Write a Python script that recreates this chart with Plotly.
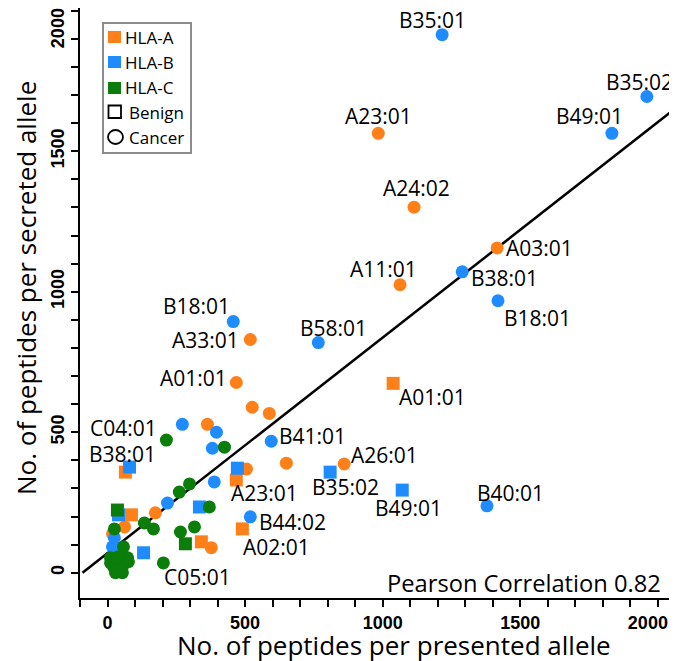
import plotly.graph_objects as go

# ---------------- data ----------------
# HLA-A, cancer (circles)
a_cancer_x = [984, 1114, 1416, 1063, 519, 468, 860, 526, 588, 363, 505, 650, 174, 62, 18, 377, 36]
a_cancer_y = [1564, 1301, 1156, 1025, 830, 677, 387, 589, 567, 528, 369, 390, 213, 163, 138, 89, 82]
a_cancer_lab = ["A23:01", "A24:02", "A03:01", "A11:01", "A33:01", "A01:01", "A26:01",
                "", "", "", "", "", "", "", "", "", ""]
# HLA-A, benign (squares)
a_benign_x = [1038, 468, 490, 65, 87, 341]
a_benign_y = [674, 330, 156, 358, 206, 110]
a_benign_lab = ["A01:01", "A23:01", "A02:01", "", "", ""]
# HLA-B, cancer
b_cancer_x = [1216, 1960, 1833, 1289, 1419, 457, 766, 595, 519, 1379, 272, 396, 381, 388, 218, 25, 18]
b_cancer_y = [1915, 1695, 1564, 1071, 968, 894, 819, 468, 199, 238, 528, 500, 443, 323, 248, 124, 92]
b_cancer_lab = ["B35:01", "B35:02", "B49:01", "B38:01", "B18:01", "B18:01", "B58:01", "B41:01",
                "B44:02", "B40:01", "", "", "", "", "", "", ""]
# HLA-B, benign
b_benign_x = [80, 809, 1071, 472, 334, 131, 40]
b_benign_y = [376, 358, 294, 372, 234, 71, 206]
b_benign_lab = ["B38:01", "B35:02", "B49:01", "", "", "", ""]
# HLA-C, cancer
c_cancer_x = [214, 203, 425, 298, 261, 370, 316, 265, 134, 167, 25, 58, 11, 40, 73, 22, 54, 76, 29, 54, 11]
c_cancer_y = [472, 35, 447, 316, 287, 234, 163, 145, 177, 156, 156, 92, 53, 57, 53, 21, 21, 39, 0, 0, 35]
c_cancer_lab = ["C04:01", "C05:01"] + [""] * 19
# HLA-C, benign
c_benign_x = [36, 283, 40]
c_benign_y = [223, 103, 5]
c_benign_lab = ["", "", ""]

# regression line
fit_slope = 0.767
fit_intercept = 70
fit_x_range = [-91, 2051]
pearson_r = 0.82

x_ticks = [0, 500, 1000, 1500, 2000]
y_ticks = [0, 500, 1000, 1500, 2000]

legend_labels = ["HLA-A", "HLA-B", "HLA-C", "Benign", "Cancer"]

# ---------------- styling ----------------
ORANGE = "#FF8019"
BLUE = "#1E8CFF"
GREEN = "#0A7D0A"
FONT = "Open Sans"
OFF = 8                      # the page body adds an 8px margin around the figure
W, H = 677 - OFF, 661 - OFF
ML, MR, MT, MB = 72, 4, 0, 63
PW, PH = W - ML - MR, H - MT - MB


def px_x(p):  # page pixel -> paper x
    return (p - OFF - ML) / PW


def px_y(p):  # page pixel (from top) -> paper y
    return (H - MB - (p - OFF)) / PH


# label placement: (xanchor, xshift px, yshift px) keyed by (group, label)
label_pos = {
    ("Ac", "A23:01"): ("center", 0, 17),
    ("Ac", "A24:02"): ("center", 2, 19),
    ("Ac", "A03:01"): ("left", 7, 0),
    ("Ac", "A11:01"): ("center", -17, 16),
    ("Ac", "A33:01"): ("right", -9, 0),
    ("Ac", "A01:01"): ("right", -7, 5),
    ("Ac", "A26:01"): ("left", 5, 9),
    ("Ab", "A01:01"): ("left", 4, -14),
    ("Ab", "A23:01"): ("center", 28, -13),
    ("Ab", "A02:01"): ("left", -1, -18),
    ("Bc", "B35:01"): ("center", -10, 15),
    ("Bc", "B35:02"): ("center", -7, 15),
    ("Bc", "B49:01"): ("center", -22, 17),
    ("Bc", "B38:01"): ("left", 7, -6),
    ("Bc", "B58:01"): ("left", -20, 15),
    ("Bc", "B41:01"): ("left", 6, 5),
    ("Bc", "B44:02"): ("left", 7, -5),
    ("Bc", "B40:01"): ("center", 24, 13),
    ("Bb", "B38:01"): ("center", -7, 13),
    ("Bb", "B35:02"): ("center", 15, -15),
    ("Bb", "B49:01"): ("center", 6, -18),
    ("Cc", "C04:01"): ("right", -7, 12),
    ("Cc", "C05:01"): ("left", -1, -14),
}
# the two B18:01 points, in order of appearance
b18_pos = [("left", 4, -17), ("right", -1, 16)]

fig = go.Figure()

groups = [
    ("Ac", a_cancer_x, a_cancer_y, a_cancer_lab, ORANGE, "circle"),
    ("Ab", a_benign_x, a_benign_y, a_benign_lab, ORANGE, "square"),
    ("Bc", b_cancer_x, b_cancer_y, b_cancer_lab, BLUE, "circle"),
    ("Bb", b_benign_x, b_benign_y, b_benign_lab, BLUE, "square"),
    ("Cc", c_cancer_x, c_cancer_y, c_cancer_lab, GREEN, "circle"),
    ("Cb", c_benign_x, c_benign_y, c_benign_lab, GREEN, "square"),
]

# regression line (drawn first, under markers)
fig.add_trace(go.Scatter(
    x=fit_x_range,
    y=[fit_intercept + fit_slope * v for v in fit_x_range],
    mode="lines", line=dict(color="black", width=2.5),
    showlegend=False, hoverinfo="skip"))

annotations = []
b18_count = 0
for key, xs, ys, labs, col, sym in groups:
    fig.add_trace(go.Scatter(
        x=xs, y=ys, mode="markers",
        marker=dict(color=col, symbol=sym, size=13, line=dict(width=0)),
        showlegend=False))
    for xv, yv, lab in zip(xs, ys, labs):
        if not lab:
            continue
        pos = label_pos.get((key, lab))
        if pos is None:
            pos = b18_pos[b18_count]
            b18_count += 1
        anchor, dx, dy = pos
        annotations.append(dict(
            x=xv, y=yv, text=lab, showarrow=False, xanchor=anchor, yanchor="middle",
            xshift=dx, yshift=dy, font=dict(family=FONT, size=21, color="black")))

annotations.append(dict(
    x=px_x(663), y=px_y(583), xref="paper", yref="paper", xanchor="right", yanchor="middle",
    text=f"Pearson Correlation {pearson_r}", showarrow=False,
    font=dict(family=FONT, size=23.7, color="black")))

# axis titles
annotations.append(dict(
    x=px_x(394), y=px_y(645), xref="paper", yref="paper", xanchor="center", yanchor="middle",
    text="No. of peptides per presented allele", showarrow=False,
    font=dict(family=FONT, size=26, color="black")))
annotations.append(dict(
    x=px_x(26), y=px_y(288), xref="paper", yref="paper", xanchor="center", yanchor="middle",
    text="No. of peptides per secreted allele", showarrow=False, textangle=-90,
    font=dict(family=FONT, size=26, color="black")))

# ---------------- legend box (drawn manually) ----------------
shapes = [dict(type="rect", xref="paper", yref="paper",
               x0=px_x(103), x1=px_x(191), y0=px_y(153), y1=px_y(23),
               line=dict(color="#8c8c8c", width=2), fillcolor="white", layer="above")]
legend_swatch = [ORANGE, BLUE, GREEN, None, None]
row_y = [37, 62, 88, 112, 137]
for i, (lab, col) in enumerate(zip(legend_labels, legend_swatch)):
    cy = row_y[i]
    if col is not None:
        shapes.append(dict(type="rect", xref="paper", yref="paper",
                           x0=px_x(108), x1=px_x(121), y0=px_y(cy + 6), y1=px_y(cy - 6),
                           line=dict(width=0), fillcolor=col, layer="above"))
        tx = 123
    elif lab == "Benign":
        shapes.append(dict(type="rect", xref="paper", yref="paper",
                           x0=px_x(108.5), x1=px_x(121), y0=px_y(cy + 6), y1=px_y(cy - 6.5),
                           line=dict(color="black", width=1.8), fillcolor="rgba(0,0,0,0)",
                           layer="above"))
        tx = 127
    else:
        shapes.append(dict(type="circle", xref="paper", yref="paper",
                           x0=px_x(108), x1=px_x(123), y0=px_y(cy + 7), y1=px_y(cy - 7),
                           line=dict(color="black", width=1.8), fillcolor="rgba(0,0,0,0)",
                           layer="above"))
        tx = 127
    annotations.append(dict(
        x=px_x(tx), y=px_y(cy), xref="paper", yref="paper", xanchor="left", yanchor="middle",
        text=lab, showarrow=False, font=dict(family=FONT, size=17, color="black")))

axis_common = dict(
    showline=True, linecolor="black", linewidth=2,
    showgrid=False, zeroline=False, automargin=False,
    ticks="outside", ticklen=7, tickwidth=1.5, tickcolor="black",
    minor=dict(dtick=100, ticks="outside", ticklen=7, tickwidth=1.5, tickcolor="black"),
    tickfont=dict(family="Liberation Sans", size=18, color="black", weight="bold"),
    ticklabeloverflow="allow",
)

NB = "\u00a0"
x_ticktext = [str(v) for v in x_ticks]
x_ticktext[-1] = x_ticktext[-1] + NB * 4  # nudge last label inward like the original
y_ticktext = [str(v) for v in y_ticks]
y_ticktext[-1] = y_ticktext[-1] + NB * 8

fig.update_layout(
    width=W, height=H,
    margin=dict(l=ML, r=MR, t=MT, b=MB),
    plot_bgcolor="white", paper_bgcolor="white",
    xaxis=dict(range=[-100, 2055], tickvals=x_ticks, ticktext=x_ticktext, **axis_common),
    yaxis=dict(range=[-90, 2010], tickvals=y_ticks, ticktext=y_ticktext, tickangle=-90,
               **axis_common),
    annotations=annotations,
    shapes=shapes,
    showlegend=False,
)

fig.write_html("out.html")
